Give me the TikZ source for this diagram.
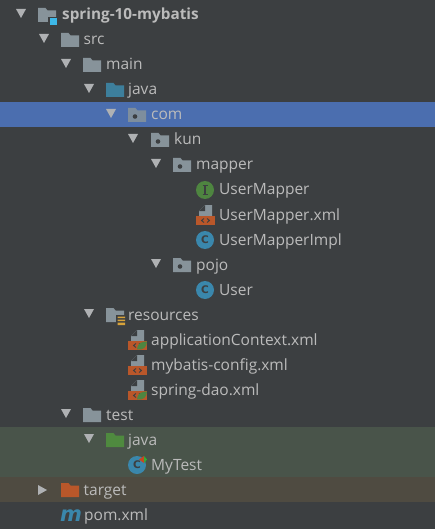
\documentclass[tikz,border=0pt]{standalone}
\usepackage{fontspec}
\setmainfont{Open Sans}
\newfontfamily\iconfont{DejaVu Sans}
\definecolor{bgc}{HTML}{3C3F41}
\definecolor{selc}{HTML}{4B6EAF}
\definecolor{testc}{HTML}{49544A}
\definecolor{targc}{HTML}{4F4B41}
\definecolor{txtc}{HTML}{BBBBBB}
\definecolor{arrc}{HTML}{AFB1B3}
\definecolor{foldc}{HTML}{87939A}
\definecolor{srcc}{HTML}{3D7F9C}
\definecolor{tstc}{HTML}{4F8A3F}
\definecolor{orgc}{HTML}{B9572A}
\definecolor{bluec}{HTML}{3A87AC}
\definecolor{grnc}{HTML}{4E8540}
\definecolor{modc}{HTML}{3DB8E8}
\definecolor{dotc}{HTML}{3C3F41}
\definecolor{resc}{HTML}{D6A23A}
\tikzset{x=1pt,y=-1pt,
 lbl/.style={anchor=base west,inner sep=0pt,text=txtc,font=\fontsize{15.5}{17}\selectfont},
 lblb/.style={lbl,font=\fontsize{15.3}{17}\selectfont\bfseries},
 selrow/.style={fill=selc},
}
% folder: #1 left x, #2 centre y, #3 colour
\newcommand{\foldericon}[3]{\fill[#3] (#1,#2-7) -- (#1+7.5,#2-7) -- (#1+9.5,#2-4.5) -- (#1+18,#2-4.5) -- (#1+18,#2+7) -- (#1,#2+7) -- cycle;}
\newcommand{\pkgicon}[3]{\foldericon{#1}{#2}{#3}\fill[dotc] (#1+7,#2+1.5) circle (2.3);}
\newcommand{\tridown}[2]{\fill[arrc] (#1,#2-5) -- (#1+10,#2-5) -- (#1+5,#2+4) -- cycle;}
\newcommand{\triright}[2]{\fill[arrc] (#1,#2-5) -- (#1+9,#2) -- (#1,#2+5) -- cycle;}
\newcommand{\classicon}[4]{\fill[#3] (#1+9,#2) circle (9);\node[inner sep=0pt,text=bgc,font=\iconfont\fontsize{10.5}{11}\selectfont\bfseries] at (#1+9,#2) {#4};}
\newcommand{\ifaceicon}[3]{\fill[#3] (#1+9,#2) circle (9);\draw[bgc,line width=1.2pt] (#1+6.5,#2-4.5) -- (#1+11.5,#2-4.5) (#1+9,#2-4.5) -- (#1+9,#2+4.5) (#1+6.5,#2+4.5) -- (#1+11.5,#2+4.5);}
\newcommand{\xmlicon}[2]{%
 \fill[foldc] (#1+3,#2+1) -- (#1+3,#2-4) -- (#1+9,#2-10) -- (#1+16,#2-10) -- (#1+16,#2+1) -- cycle;
 \fill[bgc] (#1+9,#2-10) -- (#1+9,#2-4) -- (#1+3,#2-4) -- cycle;
 \fill[orgc] (#1,#2+1) rectangle (#1+19,#2+10);
 \draw[bgc,line width=.9pt] (#1+8,#2+3.5) -- (#1+5.5,#2+5.5) -- (#1+8,#2+7.5) (#1+11,#2+3.5) -- (#1+13.5,#2+5.5) -- (#1+11,#2+7.5);}
\newcommand{\leaficon}[2]{\fill[grnc] (#1+9,#2+9.5) .. controls (#1+9,#2+3) and (#1+14,#2+1.5) .. (#1+19,#2+1.5) .. controls (#1+19,#2+7) and (#1+15,#2+10.5) .. (#1+9,#2+9.5) -- cycle;}
\begin{document}
\begin{tikzpicture}
\useasboundingbox (0,0) rectangle (435,529);
\fill[bgc] (0,0) rectangle (435,529);
\fill[selrow] (0,102) rectangle (435,127);
\fill[testc] (0,427) rectangle (435,477);
\fill[targc] (0,477) rectangle (435,502);
% root
\tridown{16}{14}
\foldericon{38}{15}{foldc}
\fill[bgc] (48,17) rectangle (58,26);
\fill[modc] (49.5,18) rectangle (57,25);
\node[lblb] (root) at (62,20) {spring-10-mybatis};
% src
\tridown{39}{39}\foldericon{61}{40}{foldc}
\node[lbl] (src) at (83.5,45) {src};
% main
\tridown{61}{64}\foldericon{83}{65}{foldc}
\node[lbl] (main) at (106,70) {main};
% java
\tridown{84}{89}\foldericon{106}{90}{srcc}
\node[lbl] (java) at (128,95) {java};
% com
\tridown{106}{114}\pkgicon{128}{115}{foldc!85!selc}
\node[lbl] (com) at (151,120) {com};
% kun
\tridown{128}{139}\pkgicon{151}{140}{foldc}
\node[lbl] (kun) at (174,145) {kun};
% mapper
\tridown{151}{164}\pkgicon{173}{165}{foldc}
\node[lbl] (mapper) at (196,170) {mapper};
% UserMapper
\ifaceicon{196}{190}{grnc}
\node[lbl] (um) at (219,195) {UserMapper};
\xmlicon{196}{215}
\node[lbl] (umx) at (219,220) {UserMapper.xml};
\classicon{196}{240}{bluec}{C}
\node[lbl] (umi) at (219,245) {UserMapperImpl};
% pojo
\tridown{151}{264}\pkgicon{173}{265}{foldc}
\node[lbl] (pojo) at (196,270) {pojo};
\classicon{196}{290}{bluec}{C}
\node[lbl] (user) at (219,295) {User};
% resources
\tridown{84}{314}\foldericon{106}{315}{foldc}
\fill[bgc] (116,315) rectangle (126,325);
\fill[resc] (117.5,316.5) rectangle (125,318) (117.5,319.5) rectangle (125,321) (117.5,322.5) rectangle (125,325);
\node[lbl] (res) at (128,320) {resources};
% xml files
\xmlicon{128}{340}\leaficon{128}{340}
\node[lbl] (app) at (151,345) {applicationContext.xml};
\xmlicon{128}{365}
\node[lbl] (myb) at (151,370) {mybatis-config.xml};
\xmlicon{128}{390}\leaficon{128}{390}
\node[lbl] (dao) at (151,395) {spring-dao.xml};
% test
\tridown{61}{414}\foldericon{83}{415}{foldc}
\node[lbl] (test) at (106,420) {test};
\tridown{84}{439}\foldericon{106}{440}{tstc}
\node[lbl] (tjava) at (128,445) {java};
\classicon{128}{465}{bluec}{C}
\fill[orgc!80!red] (144,456) -- (139,459.5) -- (144,463) -- cycle;
\fill[green!60!black!80!white] (144,456) -- (147,459.5) -- (144,463) -- cycle;
\node[lbl] (mytest) at (151,470) {MyTest};
% target
\triright{38}{490}\foldericon{61}{490}{orgc}
\node[lbl] (target) at (83.5,495) {target};
% pom
\node[anchor=base west,inner sep=0pt,text=bluec,font=\iconfont\fontsize{21}{21}\selectfont\bfseries\itshape] (mic) at (60,521) {m};
\node[lbl] (pom) at (84,520) {pom.xml};
\end{tikzpicture}
\end{document}
